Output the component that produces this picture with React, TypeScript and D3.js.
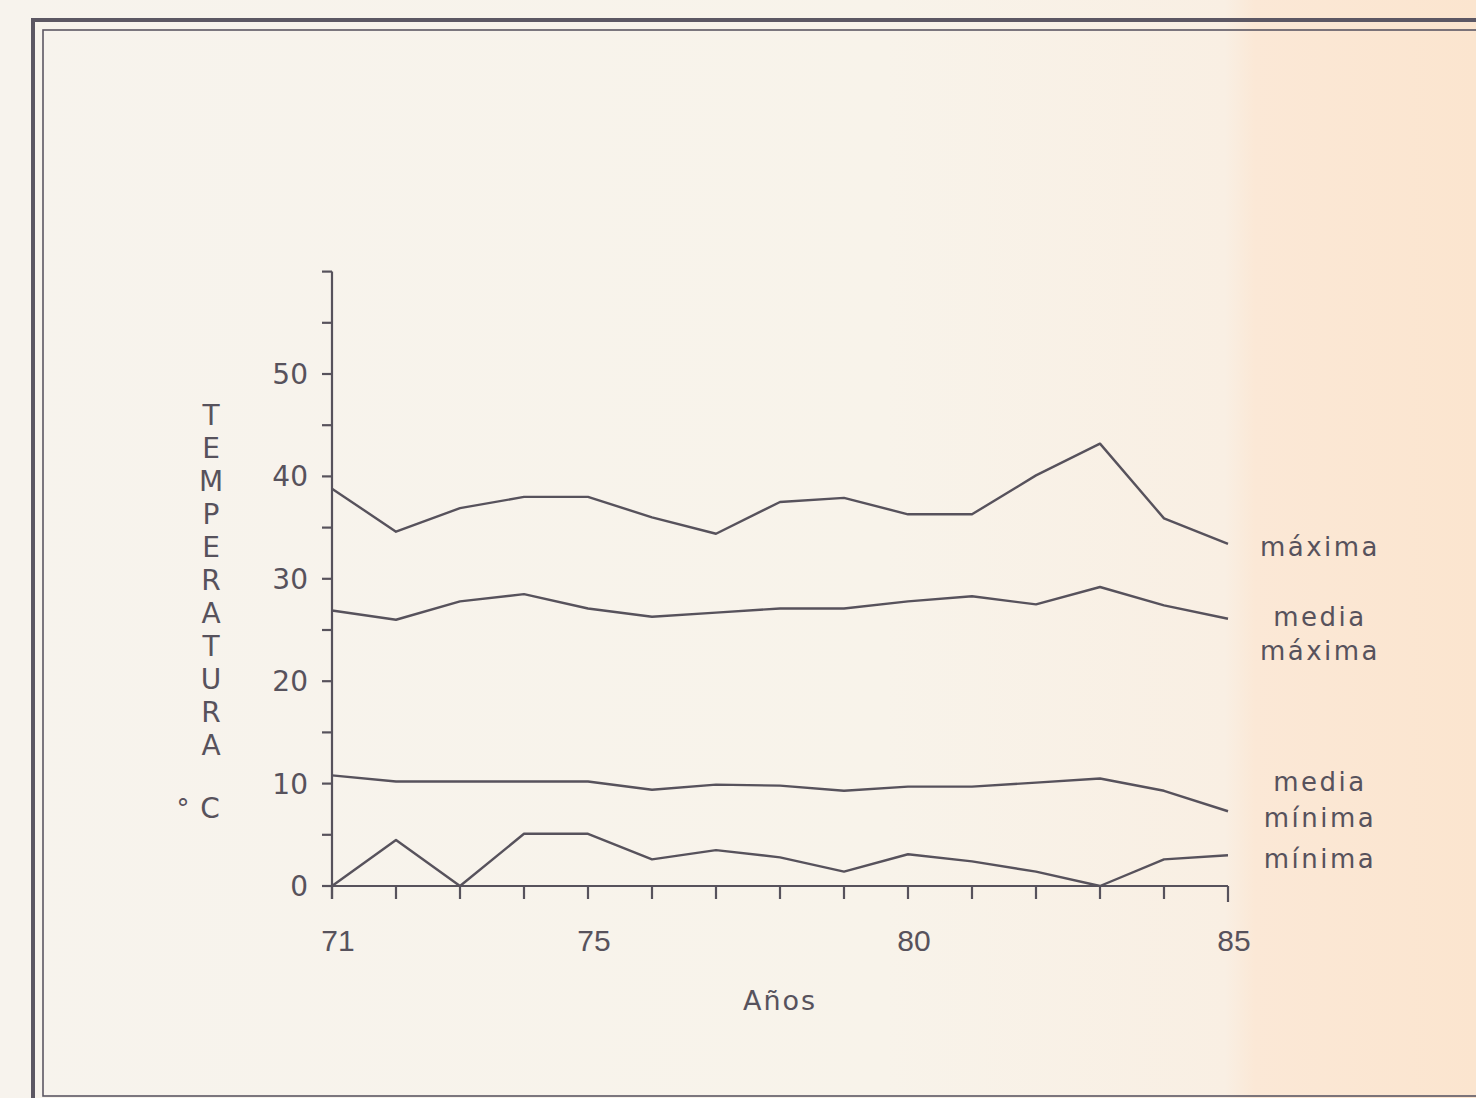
import React from "react";
import * as d3 from "d3";

const years = [71, 72, 73, 74, 75, 76, 77, 78, 79, 80, 81, 82, 83, 84, 85];
const maxima = [38.8, 34.6, 36.9, 38.0, 38.0, 36.0, 34.4, 37.5, 37.9, 36.3, 36.3, 40.1, 43.2, 35.9, 33.4];
const mediaMaxima = [26.9, 26.0, 27.8, 28.5, 27.1, 26.3, 26.7, 27.1, 27.1, 27.8, 28.3, 27.5, 29.2, 27.4, 26.1];
const mediaMinima = [10.8, 10.2, 10.2, 10.2, 10.2, 9.4, 9.9, 9.8, 9.3, 9.7, 9.7, 10.1, 10.5, 9.3, 7.3];
const minima = [0, 4.5, 0, 5.1, 5.1, 2.6, 3.5, 2.8, 1.4, 3.1, 2.4, 1.4, 0, 2.6, 3.0];

const xTickLabels = [71, 75, 80, 85];
const yTickLabels = [0, 10, 20, 30, 40, 50];
const yMinorTicks = [0, 5, 10, 15, 20, 25, 30, 35, 40, 45, 50, 55, 60];
const yTitleLetters = ["T", "E", "M", "P", "E", "R", "A", "T", "U", "R", "A"];
const seriesLabels = [
  ["máxima"],
  ["media", "máxima"],
  ["media", "mínima"],
  ["mínima"],
];

const INK = "#57525c";
const FONT = "'DejaVu Sans', 'Open Sans', sans-serif";

export default function App() {
  const x = d3.scaleLinear().domain([71, 85]).range([332, 1228]);
  const y = d3.scaleLinear().domain([0, 60]).range([886, 271.6]);
  const line = d3
    .line<number>()
    .x((_, i) => x(years[i]))
    .y((d) => y(d));

  const series = [maxima, mediaMaxima, mediaMinima, minima];
  const labelBaselines = [[556], [626, 660], [791, 827], [868]];

  return (
    <svg
      width={1476}
      height={1098}
      style={{ position: "absolute", left: 0, top: 0, display: "block" }}
    >
      <defs>
        <linearGradient id="paper" x1="0" x2="1" y1="0" y2="0">
          <stop offset="0" stopColor="#f7f3ed" />
          <stop offset="0.6" stopColor="#f8f3ea" />
          <stop offset="0.83" stopColor="#f9efe3" />
          <stop offset="0.85" stopColor="#fbe8d6" />
          <stop offset="1" stopColor="#fbe5cf" />
        </linearGradient>
      </defs>
      <rect x={0} y={0} width={1476} height={1098} fill="url(#paper)" />

      {/* frames */}
      <rect x={33} y={20} width={1500} height={1120} fill="none" stroke="#5c5763" strokeWidth={4} />
      <rect x={43} y={30} width={1490} height={1066} fill="none" stroke="#5c5763" strokeWidth={1.6} />

      {/* y axis */}
      <line x1={x(71)} x2={x(71)} y1={y(60)} y2={899} stroke={INK} strokeWidth={2.2} />
      {yMinorTicks.map((t) => (
        <line key={"yt" + t} x1={322} x2={x(71)} y1={y(t)} y2={y(t)} stroke={INK} strokeWidth={2.2} />
      ))}
      {yTickLabels.map((t) => (
        <text
          key={"yl" + t}
          x={308}
          y={y(t) + 10}
          textAnchor="end"
          fontFamily={FONT}
          fontSize={28}
          fill={INK}
        >
          {t}
        </text>
      ))}

      {/* x axis */}
      <line x1={x(71)} x2={x(85)} y1={y(0)} y2={y(0)} stroke={INK} strokeWidth={2.2} />
      {years.map((yr) => (
        <line key={"xt" + yr} x1={x(yr)} x2={x(yr)} y1={y(0)} y2={yr === 85 ? 902 : 899} stroke={INK} strokeWidth={2.2} />
      ))}
      {xTickLabels.map((t) => (
        <text
          key={"xl" + t}
          x={x(t) + 6}
          y={951}
          textAnchor="middle"
          fontFamily="'Liberation Sans', Arial, sans-serif"
          fontSize={30}
          fill={INK}
        >
          {t}
        </text>
      ))}
      <text x={780} y={1010} textAnchor="middle" fontFamily={FONT} fontSize={27} letterSpacing={2} fill={INK}>
        Años
      </text>

      {/* y title */}
      {yTitleLetters.map((l, i) => (
        <text
          key={"yc" + i}
          x={211}
          y={425 + i * 33}
          textAnchor="middle"
          fontFamily={FONT}
          fontSize={28}
          fill={INK}
        >
          {l}
        </text>
      ))}
      <text x={183} y={818} textAnchor="middle" fontFamily={FONT} fontSize={26} fill={INK}>
        °
      </text>
      <text x={210} y={818} textAnchor="middle" fontFamily={FONT} fontSize={28} fill={INK}>
        C
      </text>

      {/* series */}
      {series.map((s, i) => (
        <path key={"s" + i} d={line(s) || ""} fill="none" stroke={INK} strokeWidth={2.4} strokeLinejoin="round" />
      ))}

      {/* series labels */}
      {seriesLabels.map((lines, i) =>
        lines.map((txt, j) => (
          <text
            key={"lab" + i + "-" + j}
            x={1320}
            y={labelBaselines[i][j]}
            textAnchor="middle"
            fontFamily={FONT}
            fontSize={26}
            letterSpacing={2.5}
            fill={INK}
          >
            {txt}
          </text>
        ))
      )}
    </svg>
  );
}
